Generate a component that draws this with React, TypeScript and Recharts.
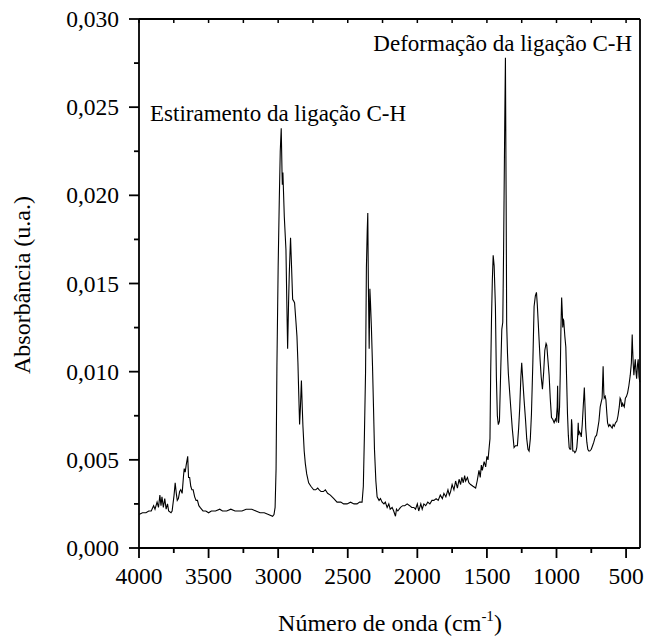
import React from "react";
import { LineChart, Line, XAxis, YAxis, Customized } from "recharts";

// [wavenumber (cm-1), absorbance], high to low wavenumber
const baseline4000: [number, number][] = [
  [4000, 0.0019], [3975, 0.002], [3950, 0.002], [3930, 0.0021], [3912, 0.0021], [3895, 0.0024],
  [3885, 0.0022], [3870, 0.0026], [3860, 0.0023], [3850, 0.003], [3842, 0.0024], [3835, 0.0029],
  [3825, 0.0023], [3815, 0.0028], [3805, 0.0022], [3795, 0.0025], [3787, 0.0021], [3770, 0.002],
  [3762, 0.0021], [3748, 0.003], [3740, 0.0037], [3732, 0.0031], [3725, 0.0027], [3717, 0.0028],
  [3708, 0.0032], [3700, 0.0033], [3690, 0.0031], [3680, 0.0041], [3675, 0.0045], [3668, 0.0043],
  [3661, 0.0047], [3650, 0.0052], [3644, 0.004], [3636, 0.004], [3628, 0.0035], [3620, 0.0033],
  [3611, 0.0033], [3600, 0.0029], [3590, 0.0027], [3580, 0.0027], [3570, 0.0024], [3561, 0.0023],
  [3540, 0.0021], [3520, 0.0021], [3500, 0.002], [3480, 0.0021], [3450, 0.0021], [3420, 0.0022],
  [3400, 0.0021], [3370, 0.0021], [3340, 0.0022], [3310, 0.0021], [3285, 0.0021], [3260, 0.0021],
  [3230, 0.0022], [3210, 0.0022], [3190, 0.0022], [3160, 0.0021], [3130, 0.002], [3100, 0.002],
  [3070, 0.0019], [3040, 0.0018], [3030, 0.0019],
];

const stretchCH: [number, number][] = [
  [3022, 0.0023], [3015, 0.0045], [3009, 0.0103], [3000, 0.016], [2992, 0.0197], [2985, 0.0225],
  [2978, 0.0238], [2972, 0.0212], [2970, 0.0206], [2966, 0.0213], [2956, 0.0188], [2944, 0.0169],
  [2938, 0.014], [2932, 0.0113], [2925, 0.014], [2920, 0.0156], [2911, 0.0176], [2904, 0.016],
  [2896, 0.0141], [2888, 0.014], [2882, 0.0139], [2872, 0.0128], [2865, 0.012], [2858, 0.0105],
  [2853, 0.009], [2846, 0.007], [2840, 0.008], [2833, 0.0095], [2827, 0.008], [2822, 0.0069],
  [2813, 0.0055], [2805, 0.0048], [2795, 0.0042], [2781, 0.0037], [2765, 0.0035], [2745, 0.0033],
  [2730, 0.0033], [2716, 0.0034], [2705, 0.0033], [2692, 0.0032], [2675, 0.0032], [2661, 0.0033],
  [2645, 0.0031], [2625, 0.003], [2600, 0.0028], [2577, 0.0026], [2550, 0.0026], [2530, 0.0025],
  [2505, 0.0025], [2480, 0.0026], [2455, 0.0025], [2433, 0.0025], [2415, 0.0026], [2397, 0.0026],
];

const co2Band: [number, number][] = [
  [2388, 0.0035], [2380, 0.0065], [2372, 0.01], [2366, 0.0159], [2360, 0.018], [2356, 0.019],
  [2352, 0.015], [2346, 0.0113], [2341, 0.0147], [2337, 0.014], [2330, 0.0125], [2322, 0.0103],
  [2315, 0.008], [2308, 0.0056], [2298, 0.0038], [2289, 0.0029], [2275, 0.0027], [2265, 0.0028],
  [2253, 0.0026], [2240, 0.0025], [2230, 0.0026], [2217, 0.0023], [2205, 0.0025], [2195, 0.0022],
  [2181, 0.0023], [2170, 0.0021], [2157, 0.0018], [2150, 0.0022], [2140, 0.0021], [2121, 0.0023],
  [2105, 0.0024], [2090, 0.0024], [2073, 0.0025], [2055, 0.0024], [2040, 0.0023], [2025, 0.0023],
  [2013, 0.0022], [2000, 0.0025], [1990, 0.0021], [1975, 0.0025], [1965, 0.0022], [1953, 0.0025],
  [1940, 0.0024], [1925, 0.0026], [1910, 0.0025], [1895, 0.0027], [1881, 0.0027], [1865, 0.0028],
  [1850, 0.0027], [1835, 0.003], [1820, 0.0028], [1809, 0.0031], [1795, 0.0029], [1780, 0.0033],
  [1770, 0.003], [1761, 0.0032], [1750, 0.0036], [1737, 0.0033], [1725, 0.0038], [1712, 0.0034],
  [1700, 0.0039], [1689, 0.0036], [1680, 0.004], [1670, 0.0037], [1660, 0.0041], [1653, 0.0038],
  [1640, 0.004], [1630, 0.0037], [1617, 0.0036], [1600, 0.0035], [1581, 0.0034], [1570, 0.0038],
  [1557, 0.0044], [1548, 0.004], [1540, 0.0047], [1533, 0.0044], [1520, 0.0049], [1509, 0.0046],
  [1500, 0.0052], [1492, 0.005], [1485, 0.0056],
];

const fingerprint: [number, number][] = [
  [1478, 0.0062], [1473, 0.0099], [1467, 0.013], [1461, 0.0152], [1455, 0.0166], [1448, 0.016],
  [1439, 0.0137], [1432, 0.0097], [1425, 0.0075], [1418, 0.007], [1410, 0.0072], [1401, 0.01],
  [1393, 0.0124], [1386, 0.0128], [1380, 0.017], [1372, 0.024], [1367, 0.0278], [1362, 0.02],
  [1358, 0.0127], [1352, 0.011], [1346, 0.0099], [1338, 0.009], [1329, 0.008], [1318, 0.0068],
  [1305, 0.0057], [1295, 0.0058], [1281, 0.0058], [1272, 0.0068], [1264, 0.008], [1256, 0.0097],
  [1250, 0.0105], [1242, 0.0095], [1233, 0.0084], [1222, 0.0072], [1214, 0.0062], [1205, 0.0056],
  [1197, 0.0055], [1188, 0.0062], [1180, 0.0076], [1170, 0.0105], [1161, 0.0137], [1152, 0.0143],
  [1144, 0.0145], [1138, 0.0138], [1132, 0.0129], [1125, 0.0118], [1118, 0.0107], [1110, 0.0097],
  [1101, 0.009], [1092, 0.01], [1084, 0.0112], [1075, 0.0116], [1070, 0.0115], [1062, 0.0107],
  [1053, 0.0098], [1045, 0.0085], [1036, 0.0074], [1027, 0.0073], [1017, 0.0071], [1008, 0.0073],
  [1002, 0.0072], [995, 0.008], [992, 0.0092], [988, 0.0072], [985, 0.0071], [978, 0.008],
  [973, 0.0099], [968, 0.0125], [963, 0.0142], [958, 0.0133], [955, 0.0125], [952, 0.013],
  [948, 0.0129], [940, 0.012], [933, 0.0114], [927, 0.0095], [921, 0.0076], [915, 0.0064],
  [909, 0.0057], [903, 0.0056], [897, 0.0056], [892, 0.0073], [889, 0.007], [883, 0.0055],
  [875, 0.0055], [868, 0.0054], [860, 0.0055], [854, 0.0057], [848, 0.0063], [844, 0.0071],
  [840, 0.0064], [836, 0.0066], [828, 0.0065], [822, 0.0063], [815, 0.007], [808, 0.008],
  [800, 0.0091], [795, 0.008], [790, 0.0068], [782, 0.006], [775, 0.0056], [768, 0.0055],
  [761, 0.0055], [750, 0.0056], [741, 0.0058], [732, 0.006], [722, 0.0063], [712, 0.0064],
  [705, 0.0067], [695, 0.0072], [686, 0.008], [678, 0.0083], [672, 0.0085], [665, 0.0103],
  [660, 0.0088], [657, 0.0085], [650, 0.0086], [645, 0.0084], [638, 0.0076], [633, 0.0071],
  [625, 0.0069], [617, 0.007], [609, 0.0069], [600, 0.0068], [593, 0.007], [585, 0.0069],
  [576, 0.0071], [566, 0.0072], [558, 0.0075], [549, 0.008], [543, 0.0085], [537, 0.0084],
  [531, 0.008], [525, 0.0082], [519, 0.0081], [513, 0.008], [505, 0.0085], [497, 0.0086],
  [489, 0.0088], [480, 0.0092], [470, 0.0098], [462, 0.0105], [456, 0.0121], [453, 0.0113],
  [449, 0.0105], [444, 0.0098], [439, 0.0103], [434, 0.0107], [429, 0.01], [424, 0.0096],
  [418, 0.0104], [413, 0.0107], [407, 0.0097], [401, 0.0094],
];

const xTicks = [4000, 3750, 3500, 3250, 3000, 2750, 2500, 2250, 2000, 1750, 1500, 1250, 1000, 750, 500];
const yTicks = [0, 0.0025, 0.005, 0.0075, 0.01, 0.0125, 0.015, 0.0175, 0.02, 0.0225, 0.025, 0.0275, 0.03];

const data = [...baseline4000, ...stretchCH, ...co2Band, ...fingerprint].map(([wn, abs]) => ({ wn, abs }));

const FONT = "'Liberation Serif', 'Times New Roman', serif";
const TICK_FONT = 23.5;

const isMajorX = (v: number) => v % 500 === 0;
const isMajorY = (v: number) => Math.round(v * 10000) % 50 === 0;

function BottomTick(props: any) {
  const { x, y, payload } = props;
  const major = isMajorX(payload.value);
  return (
    <g>
      <line x1={x} y1={y} x2={x} y2={y + (major ? 10 : 5)} stroke="#000" strokeWidth={1.8} />
      {major && (
        <text x={x} y={y + 35.5} textAnchor="middle" fontFamily={FONT} fontSize={TICK_FONT} fill="#000">
          {payload.value}
        </text>
      )}
    </g>
  );
}

function LeftTick(props: any) {
  const { x, y, payload } = props;
  const major = isMajorY(payload.value);
  return (
    <g>
      <line x1={x - (major ? 10 : 5)} y1={y} x2={x} y2={y} stroke="#000" strokeWidth={1.8} />
      {major && (
        <text x={x - 20} y={y + 8} textAnchor="end" fontFamily={FONT} fontSize={TICK_FONT} fill="#000">
          {payload.value.toFixed(3).replace(".", ",")}
        </text>
      )}
    </g>
  );
}

// the mirrored axes have a 1px band; ticks point into the plot
function TopTick(props: any) {
  const { x, y } = props;
  return <line x1={x} y1={y} x2={x} y2={y + 4} stroke="#000" strokeWidth={1.5} />;
}

function RightTick(props: any) {
  const { x, y } = props;
  return <line x1={x - 4} y1={y} x2={x} y2={y} stroke="#000" strokeWidth={1.5} />;
}

function Annotations() {
  return (
    <g fontFamily={FONT} fill="#000">
      <text x={150} y={121} fontSize={23}>Estiramento da ligação C-H</text>
      <text x={632} y={51} fontSize={23} textAnchor="end">Deformação da ligação C-H</text>
      <text x={390} y={631} fontSize={24} textAnchor="middle">
        Número de onda (cm
        <tspan fontSize={15} dy={-10}>-1</tspan>
        <tspan dy={10}>)</tspan>
      </text>
      <text x={0} y={0} fontSize={24} textAnchor="middle" transform="translate(30 285) rotate(-90)">
        Absorbância (u.a.)
      </text>
    </g>
  );
}

export default function App() {
  return (
    <div style={{ position: "absolute", left: 0, top: 0, background: "#fff" }}>
      <LineChart width={646} height={638} data={data} margin={{ top: 18, right: 5, bottom: 50, left: 59 }}>
        <XAxis
          dataKey="wn"
          type="number"
          domain={[400, 4000]}
          reversed
          ticks={xTicks}
          interval={0}
          height={40}
          tickSize={0}
          tickMargin={0}
          tickLine={false}
          axisLine={{ stroke: "#000", strokeWidth: 1.8 }}
          tick={<BottomTick />}
        />
        <XAxis
          xAxisId="top"
          orientation="top"
          dataKey="wn"
          type="number"
          domain={[400, 4000]}
          reversed
          ticks={xTicks}
          interval={0}
          height={1}
          tickSize={0}
          tickMargin={0}
          tickLine={false}
          axisLine={{ stroke: "#000", strokeWidth: 1.8 }}
          tick={<TopTick />}
        />
        <YAxis
          type="number"
          domain={[0, 0.03]}
          ticks={yTicks}
          interval={0}
          width={80}
          tickSize={0}
          tickMargin={0}
          tickLine={false}
          axisLine={{ stroke: "#000", strokeWidth: 1.8 }}
          tick={<LeftTick />}
        />
        <YAxis
          yAxisId="right"
          orientation="right"
          type="number"
          domain={[0, 0.03]}
          ticks={yTicks}
          interval={0}
          width={1}
          tickSize={0}
          tickMargin={0}
          tickLine={false}
          axisLine={{ stroke: "#000", strokeWidth: 1.8 }}
          tick={<RightTick />}
        />
        <Line
          dataKey="abs"
          type="linear"
          stroke="#000"
          strokeWidth={1.1}
          dot={false}
          activeDot={false}
          isAnimationActive={false}
        />
        <Customized component={<Annotations />} />
      </LineChart>
    </div>
  );
}
